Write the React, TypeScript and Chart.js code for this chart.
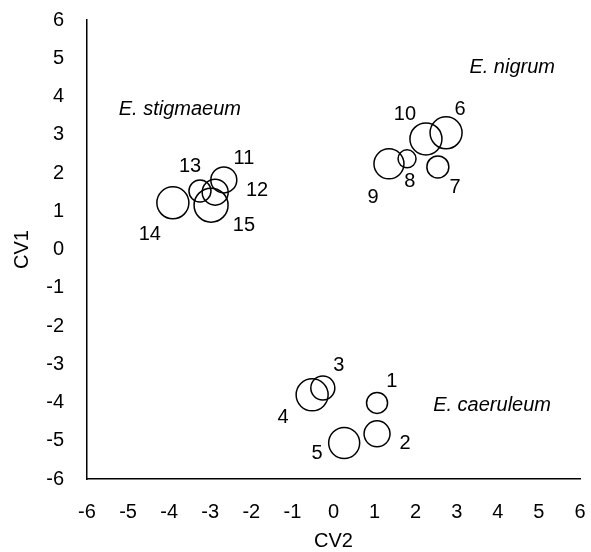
import React, { useEffect, useRef } from "react";
import { Chart, registerables } from "chart.js";

Chart.register(...registerables);

// Bubble identifiers and values (CV2 on x, CV1 on y, bubble size)
const ids = ["1", "2", "3", "4", "5", "6", "7", "8", "9", "10", "11", "12", "13", "14", "15"];
const cv2 = [1.06, 1.06, -0.26, -0.52, 0.26, 2.74, 2.54, 1.79, 1.35, 2.25, -2.67, -2.88, -3.25, -3.91, -2.98];
const cv1 = [-4.01, -4.82, -3.62, -3.8, -5.06, 3.05, 2.16, 2.37, 2.24, 2.89, 1.82, 1.5, 1.53, 1.22, 1.16];
const sizes = [10.5, 13, 12, 16, 15.5, 16, 11, 9, 15, 16, 13, 13, 11, 16, 17];

// Where each bubble's number label sits (in data units)
const labelCv2 = [1.42, 1.74, 0.13, -1.23, -0.4, 3.08, 2.96, 1.86, 0.96, 1.74, -2.18, -1.86, -3.49, -4.47, -2.18];
const labelCv1 = [-3.44, -5.08, -3.02, -4.38, -5.32, 3.65, 1.63, 1.79, 1.37, 3.52, 2.37, 1.53, 2.16, 0.38, 0.64];

// Species group labels
const speciesNames = ["E. stigmaeum", "E. nigrum", "E. caeruleum"];
const speciesCv2 = [-3.74, 4.35, 3.86];
const speciesCv1 = [3.65, 4.77, -4.07];

const FONT = "'Liberation Sans', Arial, sans-serif";

const labelPlugin = {
  id: "bubbleLabels",
  afterDatasetsDraw(chart: any) {
    const { ctx, scales } = chart;
    const xs = scales.x;
    const ys = scales.y;
    ctx.save();
    ctx.fillStyle = "#000";
    ctx.textAlign = "center";
    ctx.textBaseline = "middle";
    ctx.font = `20px ${FONT}`;
    ids.forEach((id, i) => {
      ctx.fillText(id, xs.getPixelForValue(labelCv2[i]), ys.getPixelForValue(labelCv1[i]));
    });
    ctx.font = `italic 20px ${FONT}`;
    speciesNames.forEach((n, i) => {
      ctx.fillText(n, xs.getPixelForValue(speciesCv2[i]), ys.getPixelForValue(speciesCv1[i]));
    });
    ctx.restore();
  },
};

const noPad = (s: any) => {
  s.paddingTop = 0;
  s.paddingBottom = 0;
  s.paddingLeft = 0;
  s.paddingRight = 0;
};

export default function App() {
  const ref = useRef<HTMLCanvasElement | null>(null);
  useEffect(() => {
    if (!ref.current) return;
    const chart = new Chart(ref.current, {
      type: "bubble",
      data: {
        datasets: [
          {
            data: ids.map((_, i) => ({ x: cv2[i], y: cv1[i], r: sizes[i] })),
            backgroundColor: "rgba(0,0,0,0)",
            borderColor: "#000",
            borderWidth: 1.5,
            hoverRadius: 0,
          },
        ],
      },
      options: {
        animation: false,
        responsive: true,
        maintainAspectRatio: false,
        events: [],
        layout: { autoPadding: false, padding: { top: 20, right: 11, left: 0, bottom: 0 } },
        plugins: { legend: { display: false }, tooltip: { enabled: false } },
        scales: {
          x: {
            type: "linear",
            min: -6,
            max: 6,
            grid: { display: false, drawTicks: false },
            border: { display: true, color: "#000", width: 1.5 },
            ticks: { stepSize: 1, color: "#000", font: { family: FONT, size: 20 }, padding: 21, maxRotation: 0 },
            title: { display: true, text: "CV2", color: "#000", font: { family: FONT, size: 20 }, padding: { top: 0, bottom: -1 } },
            afterFit: (s: any) => {
              s.height = 73;
              noPad(s);
            },
          },
          y: {
            type: "linear",
            min: -6,
            max: 6,
            grid: { display: false, drawTicks: false },
            border: { display: true, color: "#000", width: 1.5 },
            ticks: { stepSize: 1, color: "#000", font: { family: FONT, size: 20 }, padding: 23 },
            title: { display: true, text: "CV1", color: "#000", font: { family: FONT, size: 20 }, padding: { top: 10, bottom: 0 } },
            afterFit: (s: any) => {
              s.width = 87;
              noPad(s);
            },
          },
        },
      },
      plugins: [labelPlugin],
    });
    return () => chart.destroy();
  }, []);
  return (
    <div style={{ position: "absolute", left: 0, top: 0, width: 591, height: 552, background: "#fff" }}>
      <canvas ref={ref} />
    </div>
  );
}
